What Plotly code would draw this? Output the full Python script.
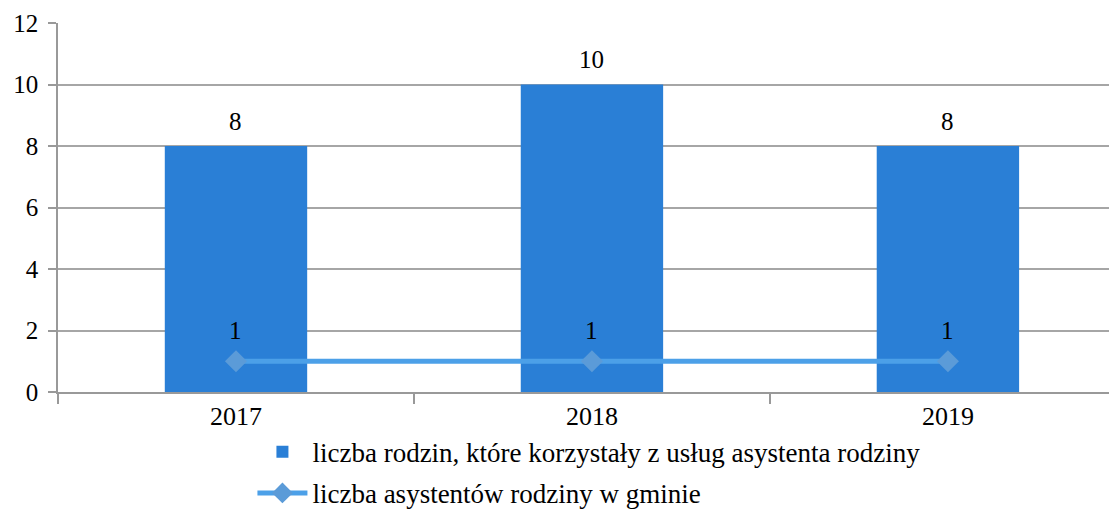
import plotly.graph_objects as go

years = ["2017", "2018", "2019"]
families = [8, 10, 8]
assistants = [1, 1, 1]
bar_name = "liczba rodzin, które korzystały z usług asystenta rodziny"
line_name = "liczba asystentów rodziny w gminie"

font_family = "Liberation Serif, Times New Roman, serif"
fs_small = 25
fs_big = 26

fig = go.Figure()
fig.add_trace(go.Bar(
    x=years, y=families, name=bar_name, width=0.4,
    marker=dict(color="#2A7FD6", line=dict(width=0)),
    legendgroup="a",
))
fig.add_trace(go.Scatter(
    x=years, y=assistants, name=line_name, mode="lines+markers",
    line=dict(color="#4CA0E8", width=5),
    marker=dict(symbol="diamond", size=17, color="#5B9BD8"),
    legendgroup="b",
))

annotations = []
for i, v in enumerate(families):
    annotations.append(dict(x=i, y=v, xref="x", yref="y", text=str(v), showarrow=False,
                            yshift=25, font=dict(family=font_family, size=fs_small, color="black")))
for i, v in enumerate(assistants):
    annotations.append(dict(x=i, y=v, xref="x", yref="y", text=str(v), showarrow=False,
                            yshift=31, font=dict(family=font_family, size=fs_small, color="black")))

fig.update_layout(
    width=1109, height=506,
    margin=dict(l=50, r=0, t=15, b=122, autoexpand=False),
    paper_bgcolor="white", plot_bgcolor="white",
    font=dict(family=font_family, size=fs_big, color="black"),
    showlegend=True,
    annotations=annotations,
    legend=dict(
        orientation="v", x=0.1836, xanchor="left", y=-0.097, yanchor="top",
        font=dict(family=font_family, size=27, color="black"),
        tracegroupgap=3, itemwidth=50, traceorder="grouped",
        bgcolor="rgba(0,0,0,0)",
    ),
    xaxis=dict(
        type="category", range=[-0.5, 2.475], automargin=False,
        tickson="boundaries", ticks="outside", ticklen=10, tickwidth=1.5,
        tickcolor="#999999", showline=True, linecolor="#999999", linewidth=2,
        showgrid=False, tickfont=dict(size=fs_big),
    ),
    yaxis=dict(
        range=[0, 12], tickvals=[0, 2, 4, 6, 8, 10, 12], automargin=False,
        ticks="outside", ticklen=8, tickwidth=1.5, tickcolor="#999999",
        showgrid=True, gridcolor="#A6A6A6", gridwidth=1.5,
        showline=True, linecolor="#999999", linewidth=1.5,
        zeroline=False, tickfont=dict(size=fs_small), ticklabelstandoff=5,
    ),
)

fig.write_html("out.html")
